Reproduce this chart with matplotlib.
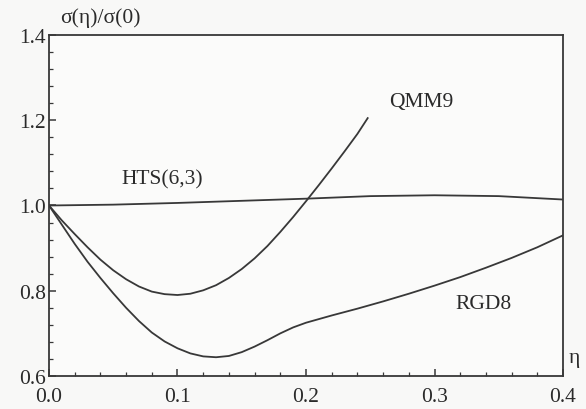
import matplotlib
matplotlib.use("Agg")
import matplotlib.pyplot as plt
from matplotlib.ticker import MultipleLocator

# values
eta_hts = [0.0, 0.05, 0.10, 0.15, 0.20, 0.25, 0.30, 0.35, 0.40]
hts = [1.000, 1.002, 1.006, 1.011, 1.016, 1.022, 1.024, 1.022, 1.014]

eta_qmm = [0.0, 0.01, 0.02, 0.03, 0.04, 0.05, 0.06, 0.07, 0.08, 0.09, 0.10,
           0.11, 0.12, 0.13, 0.14, 0.15, 0.16, 0.17, 0.18, 0.19, 0.20,
           0.21, 0.22, 0.23, 0.24, 0.248]
qmm = [1.000, 0.965, 0.933, 0.902, 0.873, 0.848, 0.827, 0.810, 0.798, 0.792, 0.790,
       0.793, 0.801, 0.813, 0.830, 0.851, 0.876, 0.905, 0.938, 0.973, 1.010,
       1.048, 1.087, 1.127, 1.168, 1.205]

eta_rgd = [0.0, 0.01, 0.02, 0.03, 0.04, 0.05, 0.06, 0.07, 0.08, 0.09, 0.10,
           0.11, 0.12, 0.13, 0.14, 0.15, 0.16, 0.17, 0.18, 0.19, 0.20,
           0.22, 0.24, 0.26, 0.28, 0.30, 0.32, 0.34, 0.36, 0.38, 0.40]
rgd = [1.000, 0.955, 0.910, 0.868, 0.830, 0.794, 0.760, 0.729, 0.702, 0.681, 0.665,
       0.653, 0.646, 0.644, 0.647, 0.656, 0.669, 0.684, 0.700, 0.714, 0.725,
       0.742, 0.758, 0.775, 0.793, 0.812, 0.832, 0.854, 0.877, 0.902, 0.930]

xticks = [0.0, 0.1, 0.2, 0.3, 0.4]
yticks = [0.6, 0.8, 1.0, 1.2, 1.4]

ink = "#383838"
fs = 15.5
plt.rcParams["font.family"] = ["Liberation Serif", "DejaVu Serif"]

fig = plt.figure(figsize=(5.86, 4.10), dpi=100, facecolor="#f8f8f7")
ax = fig.add_axes([0.0836, 0.0805, 0.8772, 0.8317])
ax.set_facecolor("#fbfbfa")

for xs, ys in [(eta_hts, hts), (eta_qmm, qmm), (eta_rgd, rgd)]:
    ax.plot(xs, ys, color=ink, lw=1.3)

ax.set_xlim(0, 0.4)
ax.set_ylim(0.6, 1.4)
ax.set_xticks(xticks)
ax.set_yticks(yticks)
ax.set_xticklabels([f"{v:.1f}" for v in xticks])
ax.set_yticklabels([f"{v:.1f}" for v in yticks])
ax.xaxis.set_minor_locator(MultipleLocator(0.02))
ax.yaxis.set_minor_locator(MultipleLocator(0.04))
ax.tick_params(which="both", direction="in", colors=ink, labelsize=fs,
               top=False, right=False, labelcolor="#2a2a2a")
ax.tick_params(which="major", length=5, width=1.1)
ax.tick_params(which="minor", length=3, width=0.9)
ax.tick_params(axis="y", pad=2)
ax.tick_params(axis="x", pad=8)
for s in ax.spines.values():
    s.set_color(ink)
    s.set_linewidth(1.3)

txt = dict(color="#2a2a2a", fontsize=fs, ha="center", va="center", clip_on=False)
ax.text(0.088, 1.062, "HTS(6,3)", **txt)
ax.text(0.290, 1.243, "QMM9", **txt)
ax.text(0.338, 0.769, "RGD8", **txt)
ax.text(0.409, 0.644, "η", **txt)
ax.text(0.040, 1.442, "σ(η)/σ(0)", **txt)

fig.savefig("out.png", dpi=100, facecolor=fig.get_facecolor())
